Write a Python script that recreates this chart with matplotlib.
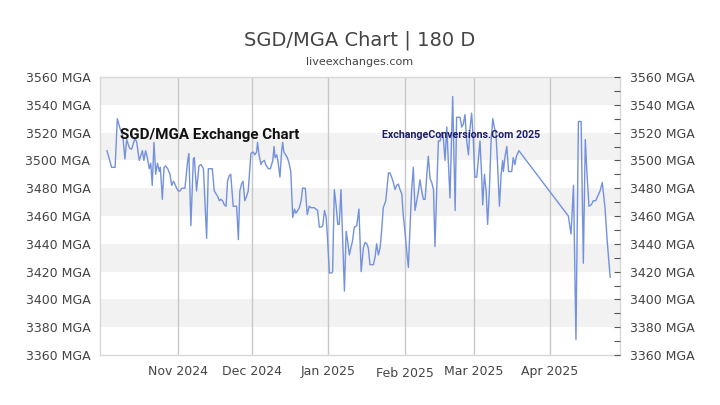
import numpy as np
import pandas as pd
import matplotlib
matplotlib.use("Agg")
import matplotlib.pyplot as plt
import matplotlib.dates as mdates
from matplotlib.ticker import MultipleLocator, FuncFormatter

# day offsets from 2024-10-03 and SGD/MGA rates
start = pd.Timestamp("2024-10-03")
days = [0.0, 1.9, 3.3, 4.2, 5.3, 6.4, 7.3, 8.0, 9.1, 10.0, 10.7, 11.4, 12.1, 12.7, 13.1,
        13.7, 14.4, 15.0, 15.7, 16.4, 17.2, 17.8, 18.4, 19.1, 19.8, 20.5, 21.3, 21.7, 22.5,
        23.2, 23.8, 24.7, 25.6, 26.3, 27.0, 27.6, 28.3, 29.0, 29.7, 30.4,
        31.7, 32.8, 33.3, 34.1, 35.1, 35.5, 36.4, 37.4, 38.2, 39.2, 40.5, 41.2, 42.8, 43.6,
        44.3, 45.0, 45.7, 46.3, 47.0, 47.7, 48.4, 49.0, 49.7, 50.3, 51.3, 52.7, 53.4, 54.0,
        54.7, 55.3, 56.0, 56.7, 57.4, 58.5, 59.4, 60.1, 60.8, 61.2, 61.8, 62.6, 63.1, 64.0,
        64.5, 65.6, 66.4, 67.4, 67.9,
        68.3, 69.0, 69.6, 70.3, 71.0, 71.4, 71.9, 72.6, 73.3, 74.0, 74.7, 75.5, 76.2, 76.8,
        77.5, 78.2, 78.9, 79.5, 80.6, 81.4, 82.2, 82.9, 84.2, 84.9, 85.6, 86.3, 87.0, 87.7,
        88.4, 89.1, 89.6, 90.4, 91.3, 91.7, 92.4, 93.1, 93.8, 94.4, 95.1, 96.5, 97.2, 97.8,
        98.5, 99.1, 99.8, 100.5,
        101.5, 102.4, 103.3, 104.2, 104.9, 105.6, 106.2, 106.9, 108.3, 109.0, 109.6, 110.3,
        111.0, 111.6, 112.3, 113.3, 114.4, 115.0, 115.7, 116.4, 117.1, 117.7, 118.4, 119.1,
        119.8, 120.4, 121.1, 121.8, 122.5, 123.2, 123.8, 124.5, 125.2, 125.9, 126.6, 127.2,
        127.9, 128.6, 129.3, 130.0, 130.6, 131.3, 132.0, 132.7, 133.3, 134.0, 134.7, 135.4,
        136.0, 136.7, 137.4, 138.1, 139.4, 140.5, 141.5, 142.1, 142.8, 143.5, 144.2, 144.8,
        145.5, 146.2, 146.9, 147.6, 148.2, 148.9, 149.5, 150.3, 151.6, 152.3, 152.7, 153.4,
        154.1, 154.7, 155.4, 156.1, 156.8, 157.4, 158.1, 158.8, 159.5, 160.2, 160.8, 161.1,
        161.8, 162.5, 163.2, 164.5, 165.1, 165.8, 166.4, 167.4,
        187.5, 188.6, 189.6, 190.6, 191.6, 192.7, 193.6, 194.4, 195.1, 195.9, 196.8, 197.7,
        198.6, 200.4, 201.3, 202.4, 203.3, 204.5]
rates = [3507, 3495, 3495, 3530, 3523, 3518, 3501, 3515, 3509, 3508, 3512, 3516, 3513, 3505, 3500,
         3503, 3507, 3500, 3507, 3502, 3494, 3498, 3482, 3513, 3490, 3498, 3492, 3495, 3472,
         3495, 3496, 3494, 3490, 3482, 3485, 3483, 3480, 3478, 3478, 3480,
         3480, 3500, 3505, 3453, 3501, 3502, 3478, 3496, 3497, 3494, 3444, 3494, 3494, 3478,
         3476, 3474, 3471, 3472, 3471, 3468, 3467, 3485, 3489, 3490, 3467, 3467, 3443, 3478,
         3483, 3485, 3471, 3474, 3478, 3505, 3506, 3504, 3506, 3513, 3504, 3497, 3499, 3500,
         3497, 3494, 3494, 3500, 3510,
         3502, 3504, 3498, 3488, 3507, 3513, 3506, 3504, 3502, 3498, 3492, 3459, 3465, 3462,
         3464, 3466, 3471, 3480, 3480, 3461, 3467, 3466, 3466, 3465, 3464, 3452, 3452, 3453,
         3464, 3459, 3445, 3419, 3419, 3420, 3479, 3468, 3454, 3454, 3479, 3406, 3449, 3442,
         3432, 3437, 3442, 3452,
         3453, 3465, 3420, 3437, 3441, 3440, 3437, 3425, 3425, 3431, 3440, 3432,
         3437, 3449, 3466, 3471, 3491, 3491, 3488, 3484, 3479, 3482, 3483, 3479,
         3476, 3461, 3449, 3435, 3423, 3454, 3478, 3495, 3464, 3471, 3478, 3486,
         3478, 3472, 3472, 3490, 3503, 3487, 3484, 3479, 3438, 3478, 3514, 3514,
         3520, 3516, 3500, 3524, 3473, 3546, 3464, 3531, 3531, 3531, 3524, 3526,
         3533, 3514, 3504, 3524, 3534, 3514, 3488, 3488, 3514, 3488, 3468, 3490,
         3478, 3454, 3478, 3514, 3530, 3524, 3519, 3495, 3467, 3490, 3500, 3492,
         3503, 3510, 3492, 3492, 3502, 3497, 3503, 3507,
         3460, 3447, 3482, 3371, 3528, 3528, 3426, 3515, 3490, 3467, 3468, 3471,
         3471, 3478, 3484, 3466, 3442, 3416]
month_ticks = pd.date_range("2024-11-01", "2025-04-01", freq="MS")

dates = start + pd.to_timedelta(days, unit="D")

y_min, y_max = 3360, 3560
line_color = "#7391dc"
text_color = "#444444"

fig = plt.figure(figsize=(7.2, 4.05), dpi=100)
ax = fig.add_axes([100 / 720, 1 - 355 / 405, 520 / 720, 278 / 405])

# alternating bands
for lo in range(3380, 3560, 40):
    ax.axhspan(lo, lo + 20, color="#f2f2f2", lw=0, zorder=0)

ax.plot(dates, rates, color=line_color, lw=1, zorder=3)

ax.set_ylim(y_min, y_max)
ax.set_xlim(pd.Timestamp("2024-09-30 04:00"), pd.Timestamp("2025-04-29 12:00"))

ax.set_xticks(month_ticks)
ax.xaxis.set_major_formatter(mdates.DateFormatter("%b %Y"))
ax.grid(axis="x", color="#c8c8c8", lw=1, zorder=1)
ax.tick_params(axis="x", length=0, pad=7, labelsize=9, labelcolor=text_color)
ax.yaxis.set_major_locator(MultipleLocator(20))
ax.yaxis.set_major_formatter(FuncFormatter(lambda v, p: "%d MGA" % v))
ax.tick_params(axis="y", length=0, pad=7, labelsize=9, labelcolor=text_color)

for lab in ax.get_xticklabels():
    if lab.get_text().startswith("Feb"):
        lab.set_y(-0.008)

for s in ax.spines.values():
    s.set_color("#d8d8d8")
    s.set_linewidth(1)

# right axis with minor ticks every 10
ax2 = ax.twinx()
ax2.set_ylim(y_min, y_max)
ax2.yaxis.set_major_locator(MultipleLocator(20))
ax2.yaxis.set_minor_locator(MultipleLocator(10))
ax2.yaxis.set_major_formatter(FuncFormatter(lambda v, p: "%d MGA" % v))
ax2.tick_params(axis="y", which="both", direction="in", length=4, width=0.8,
                color="#555555", pad=7, labelsize=9, labelcolor=text_color)
for s in ax2.spines.values():
    s.set_visible(False)

fig.text(0.5, 0.90, "SGD/MGA Chart | 180 D", ha="center", va="center",
         fontsize=14, color=text_color)
fig.text(0.5, 0.847, "liveexchanges.com", ha="center", va="center",
         fontsize=8, color=text_color)

wm1 = fig.text(120 / 720, 1 - 135 / 405, "SGD/MGA Exchange Chart", ha="left", va="center",
               family=["Roboto", "DejaVu Sans"], fontweight="bold", fontsize=14,
               color="#111111", zorder=5)
wm2 = fig.text(382 / 720, 1 - 135 / 405, "ExchangeConversions.Com 2025", ha="left",
               va="center", family=["Roboto", "DejaVu Sans"], fontweight="bold",
               fontsize=10, color="#1c1c6b", zorder=5)

# fit watermark texts to roughly the width they take in the reference
renderer = fig.canvas.get_renderer()
for t, target in ((wm1, 180), (wm2, 158)):
    w = t.get_window_extent(renderer).width
    t.set_fontsize(t.get_fontsize() * target / w)

fig.savefig("out.png", dpi=100)
